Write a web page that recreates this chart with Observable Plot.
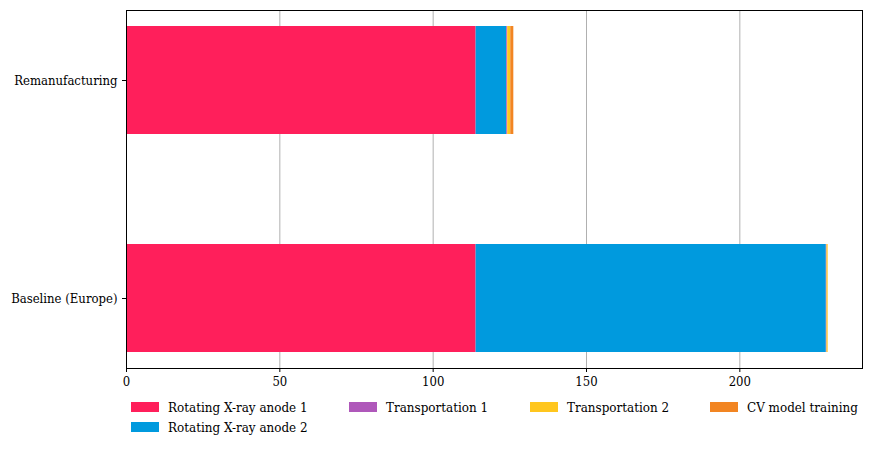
<!DOCTYPE html>
<html>
<head>
<meta charset="utf-8">
<script src="https://cdn.jsdelivr.net/npm/d3@7"></script>
<script src="https://cdn.jsdelivr.net/npm/@observablehq/plot@0.6"></script>
<style>
  html, body { margin: 0; padding: 0; background: #fff; }
  #wrap { position: relative; width: 871px; height: 449px; font-family: "DejaVu Serif Condensed", "DejaVu Serif", serif; }
  #legend { position: absolute; left: 0; top: 0; width: 871px; height: 449px; pointer-events: none; }
  .item { position: absolute; display: flex; align-items: center; font-size: 13.3px; color: #000; white-space: nowrap; }
  .sw { width: 28px; height: 10px; margin-right: 9px; }
</style>
</head>
<body>
<div id="wrap"><div id="chart"></div><div id="legend"></div></div>
<script>
const categories = ["Remanufacturing", "Baseline (Europe)"];
const series = ["Rotating X-ray anode 1", "Rotating X-ray anode 2", "Transportation 1", "Transportation 2", "CV model training"];
const colors = ["#ff1f5b", "#009ade", "#af58ba", "#ffc61e", "#f28522"];
const anode1 = [114, 114];
const anode2 = [10, 114.2];
const transport1 = [0.3, 0.2];
const transport2 = [1.0, 0.4];
const cvTraining = [1.0, 0];
const xTicks = [0, 50, 100, 150, 200];

const seriesValues = [anode1, anode2, transport1, transport2, cvTraining];
const data = [];
categories.forEach((c, i) => {
  series.forEach((s, j) => data.push({category: c, series: s, value: seriesValues[j][i]}));
});

const font = '"DejaVu Serif Condensed", "DejaVu Serif", serif';
const chart = Plot.plot({
  width: 871,
  height: 392,
  marginLeft: 126,
  marginRight: 9,
  marginTop: 10,
  marginBottom: 24,
  style: {fontFamily: font, fontSize: "13px", color: "#000", background: "#fff"},
  x: {domain: [0, 240], ticks: xTicks, label: null},
  y: {domain: categories, label: null, paddingInner: 0.505, paddingOuter: 0.07},
  color: {domain: series, range: colors},
  marks: [
    Plot.gridX(xTicks, {stroke: "#b0b0b0", strokeOpacity: 1, strokeWidth: 1}),
    Plot.barX(data, Plot.stackX({x: "value", y: "category", fill: "series", order: series})),
    Plot.frame({stroke: "#000", strokeWidth: 1}),
    Plot.axisX({ticks: xTicks, tickSize: 4, tickPadding: 4, fontSize: 13, label: null}),
    Plot.axisY({tickSize: 4, tickPadding: 5, fontSize: 13, label: null})
  ]
});
document.getElementById("chart").appendChild(chart);

// legend: 4 columns, column-major fill (matplotlib ncol=4)
const legendPos = [[131, 407], [131, 427], [349, 407], [530, 407], [710, 407]];
const legend = document.getElementById("legend");
series.forEach((s, i) => {
  const it = document.createElement("div");
  it.className = "item";
  it.style.left = legendPos[i][0] + "px";
  it.style.top = (legendPos[i][1] - 8) + "px";
  it.style.height = "16px";
  const sw = document.createElement("div");
  sw.className = "sw";
  sw.style.background = colors[i];
  const tx = document.createElement("span");
  tx.textContent = s;
  it.appendChild(sw); it.appendChild(tx);
  legend.appendChild(it);
});
</script>
</body>
</html>
